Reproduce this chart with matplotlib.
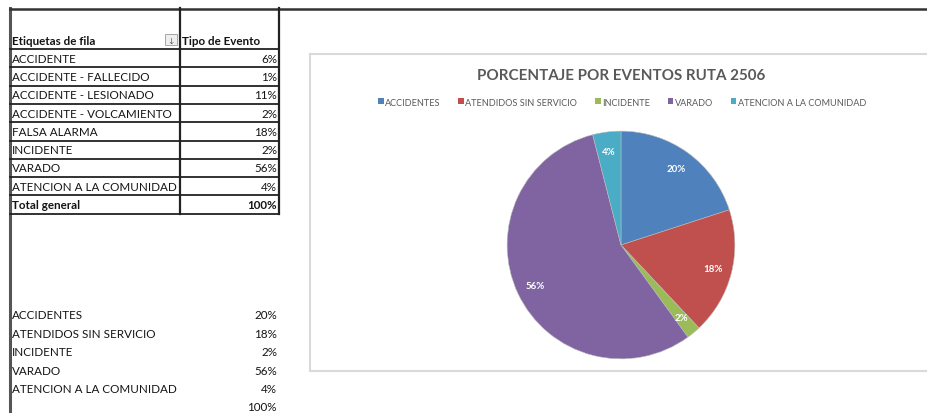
import numpy as np
import matplotlib.pyplot as plt
from matplotlib.patches import Rectangle, Patch

# pivot table rows
filas = ["ACCIDENTE", "ACCIDENTE - FALLECIDO", "ACCIDENTE - LESIONADO",
         "ACCIDENTE - VOLCAMIENTO", "FALSA ALARMA", "INCIDENTE", "VARADO",
         "ATENCION A LA COMUNIDAD"]
valores = [6, 1, 11, 2, 18, 2, 56, 4]
total = 100

# summary used by the pie
grupos = ["ACCIDENTES", "ATENDIDOS SIN SERVICIO", "INCIDENTE", "VARADO",
          "ATENCION A LA COMUNIDAD"]
porcentajes = [20, 18, 2, 56, 4]
colores = ["#4F81BD", "#C0504D", "#9BBB59", "#8064A2", "#4BACC6"]

plt.rcParams['font.family'] = ['Lato', 'DejaVu Sans']

W, H = 927, 414
fig = plt.figure(figsize=(W / 100, H / 100), dpi=100)
fig.patch.set_facecolor('white')

# sheet axes in pixel coordinates
sh = fig.add_axes([0, 0, 1, 1])
sh.set_xlim(0, W)
sh.set_ylim(H, 0)
sh.axis('off')

txt = '#141414'
fs = 8.4

# outer lines of the sheet
sh.plot([10, 10], [9, H], color='#555555', lw=2.2)
sh.plot([10, W], [9.5, 9.5], color='#333333', lw=1.8)

# table grid
row_edges = [50] + [50 + 18.3 * (i + 1) for i in range(len(filas) + 1)]
x0, x1, x2 = 10, 180, 279
for y in row_edges:
    sh.plot([x0, x2], [y, y], color='#222222', lw=1.3)
sh.plot([x1, x1], [9, row_edges[-1]], color='#222222', lw=1.6)
sh.plot([x2, x2], [9, row_edges[-1]], color='#222222', lw=1.6)

# header
sh.text(12, 45, "Etiquetas de fila", fontsize=fs, fontweight='bold', color=txt,
        va='baseline')
sh.text(182, 45, "Tipo de Evento", fontsize=fs, fontweight='bold', color=txt,
        va='baseline')
sh.add_patch(Rectangle((165, 35), 12, 11, facecolor='#eeeeee',
                       edgecolor='#999999', lw=0.6))
sh.text(171, 41, "\u2193", fontsize=5, color='#444444', ha='center', va='center')

for i, (f, v) in enumerate(zip(filas, valores)):
    yc = (row_edges[i] + row_edges[i + 1]) / 2
    sh.text(12, yc, f, fontsize=fs, color=txt, va='center')
    sh.text(277, yc, f"{v}%", fontsize=fs, color=txt, va='center', ha='right')
yc = (row_edges[-2] + row_edges[-1]) / 2
sh.text(12, yc, "Total general", fontsize=fs, fontweight='bold', color=txt,
        va='center')
sh.text(277, yc, f"{total}%", fontsize=fs, fontweight='bold', color=txt,
        va='center', ha='right')

# summary list under the table
for i, (g, p) in enumerate(zip(grupos, porcentajes)):
    y = 316 + 18.4 * i
    sh.text(12, y, g, fontsize=fs, color=txt, va='center')
    sh.text(277, y, f"{p}%", fontsize=fs, color=txt, va='center', ha='right')
sh.text(277, 316 + 18.4 * 5, f"{sum(porcentajes)}%", fontsize=fs, color=txt,
        va='center', ha='right')

# chart area box
sh.add_patch(Rectangle((310, 55), W - 308, 317, facecolor='white',
                       edgecolor='#d9d9d9', lw=1.5))
sh.text(621, 76, "PORCENTAJE POR EVENTOS RUTA 2506", fontsize=10.9,
        fontweight='bold', color='#595959', ha='center', va='center')

handles = [Patch(facecolor=c, edgecolor='none') for c in colores]
sh.legend(handles, grupos, loc='center', bbox_to_anchor=(622 / W, 1 - 103 / H),
          bbox_transform=fig.transFigure, ncol=5, frameon=False,
          fontsize=6.6, handlelength=0.6, handleheight=0.6, handletextpad=0.15,
          columnspacing=1.95, labelcolor='#595959')

# pie
cx, cy, r = 621, 246, 115
pa = fig.add_axes([(cx - r) / W, (H - cy - r) / H, 2 * r / W, 2 * r / H])
wedges, _, autotexts = pa.pie(porcentajes, colors=colores, startangle=90,
                              counterclock=False, autopct='%.0f%%',
                              pctdistance=0.83,
                              wedgeprops=dict(edgecolor='#bbbbbb', lw=0.4))
for t in autotexts:
    t.set_color('white')
    t.set_fontsize(7)
    t.set_fontweight('bold')
pa.set_xlim(-1.01, 1.01)
pa.set_ylim(-1.01, 1.01)
pa.set_aspect('equal')

fig.savefig('out.png', dpi=100, facecolor='white')
